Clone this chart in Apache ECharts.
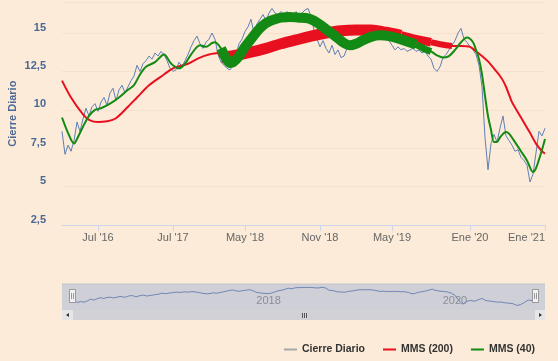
<!DOCTYPE html>
<html><head><meta charset="utf-8">
<script src="https://cdn.jsdelivr.net/npm/echarts@6/dist/echarts.min.js"></script>
<style>html,body{margin:0;padding:0;background:#fcebd8;}#c{width:558px;height:361px;}</style>
</head><body><div id="c"></div>
<script>
// Cierre Diario: one value per ordinal sample (index 0..161)
const price = [
  8.6, 7.1, 7.7, 7.3, 8.0, 9.2, 8.6, 9.4, 10.1, 9.6,
  10.2, 10.4, 9.9, 10.5, 10.8, 10.3, 11.1, 11.4, 10.6, 11.3,
  11.6, 11.1, 11.5, 11.9, 12.2, 12.9, 12.5, 13.0, 13.2, 13.5,
  13.3, 13.7, 13.5, 13.8, 13.6, 13.2, 12.7, 12.5, 12.6, 13.1,
  12.8, 13.2, 13.6, 14.1, 14.5, 14.8, 14.3, 14.0, 14.4, 14.6,
  15.0, 14.6, 13.6, 13.1, 12.9, 12.7, 12.6, 12.9, 13.6, 14.3,
  14.6, 15.1, 15.4, 15.9, 15.0, 15.6, 15.9, 16.2, 15.8, 16.3,
  16.6, 16.3, 16.2, 16.4, 16.2, 16.4, 15.9, 16.2, 16.4, 16.0,
  16.3, 16.5, 16.6, 16.1, 15.2, 14.6, 14.1, 14.5, 14.0, 13.7,
  14.2, 13.6, 13.9, 13.4, 13.5, 14.0, 14.3, 14.2, 14.6, 14.7,
  14.9, 15.0, 15.1, 14.9, 15.1, 15.0, 14.8, 14.9, 14.6, 14.5,
  14.2, 13.9, 14.1, 13.9, 14.0, 13.8, 13.9, 14.0, 13.8, 13.9,
  13.7, 13.8, 13.5, 13.3, 12.7, 12.5, 12.8, 13.4, 13.6, 13.9,
  14.2, 14.5, 15.0, 15.3, 14.6, 14.4, 14.1, 13.9, 13.6, 12.9,
  11.5, 8.2, 6.1, 7.8, 8.4, 7.9, 8.8, 9.6, 8.3, 8.0,
  7.7, 7.3, 7.4, 6.9, 6.7, 6.4, 5.3, 5.8, 7.2, 8.6,
  8.3, 8.8
];
// MMS (200): [sample index, value]
const mms200 = [
  [0,11.9],[3,10.8],[7,9.7],[9,9.35],[12,9.2],[15,9.25],[18,9.45],[22,10.2],[25,10.8],
  [29,11.6],[34,12.3],[37,12.7],[42,13.0],[46,13.4],[49,13.6],[52,13.7],
  [53,13.4],[58,13.55],[63,13.75],[68,14.0],[73,14.3],[78,14.55],[83,14.8],[88,15.0],
  [93,15.15],[98,15.2],[103,15.2],[108,15.05],[113,14.85],[118,14.6],[123,14.4],[128,14.2],[130,14.15],
  [133,14.15],[136,14.1],[138,13.8],[140,13.5],[142,13.15],[145,12.45],[146,12.2],[147,11.9],
  [148,11.5],[149,11.0],[150,10.5],[153,9.5],[156,8.5],[158,7.8],[160,7.3],[161,7.15]
];
// MMS (40): [sample index, value]
const mms40 = [
  [0,9.5],[2,8.5],[4,7.8],[5,8.1],[7,8.9],[9,9.6],[11,10.0],[13,10.1],[16,10.4],[19,10.8],
  [22,11.3],[24,11.6],[26,12.3],[28,12.8],[31,13.1],[34,13.6],[36,13.1],[37,12.9],[39,12.7],
  [41,13.0],[43,13.6],[46,14.2],[48,14.1],[50,14.35],[51,14.4],
  [53,14.0],[54,13.6],[55,13.25],[56,13.05],[57,13.1],[59,13.5],[61,14.1],[63,14.6],[65,15.1],
  [67,15.5],[69,15.75],[71,15.9],[73,16.0],[76,16.05],[79,16.0],[82,15.95],[84,15.8],[86,15.55],
  [88,15.25],[90,14.95],[92,14.65],[94,14.35],[96,14.2],[98,14.3],[100,14.5],[103,14.75],
  [106,14.85],[109,14.8],[112,14.65],[115,14.45],[118,14.25],[121,13.95],[123,13.8],
  [125,13.55],[127,13.4],[129,13.5],[131,13.9],[133,14.4],[135,14.7],[137,14.4],[138,13.9],
  [139,13.3],[140,12.3],[141,10.9],[142,9.6],[143,8.7],[144,7.9],[145,7.9],[146,8.2],[148,8.55],
  [149,8.45],[151,7.9],[153,7.3],[155,6.7],[157,5.95],[158,6.2],[160,7.4],[161,8.1]
];
// tick labels on the ordinal axis: [sample index, text]
const xTicks = [[12,"Jul '16"],[37,"Jul '17"],[61,"May '18"],[86,"Nov '18"],[110,"May '19"],[136,"Ene '20"],[161,"Ene '21"]];
// sample index -> months since Jan 2016 (navigator time scale)
const monthAnchors = [[0,0.9],[12,6],[37,18],[61,28],[86,34],[110,40],[136,48],[161,60.4]];
const navYears = [[24,'2018'],[48,'2020']];

// styling config (thick segments of the averages)
const thick200 = [[53,113,11],[113,123,8.5],[123,130,6]];
const thick40 = [[53,118,10],[118,123,7]];

const C_PRICE = '#5f7fb5', C_200 = '#e8101e', C_40 = '#138a13';
const labelMap = {}; xTicks.forEach(t => labelMap[t[0]] = t[1]);
const categories = price.map((_, i) => String(i));
function monthOf(i) {
  for (let k = 0; k < monthAnchors.length - 1; k++) {
    const a = monthAnchors[k], b = monthAnchors[k + 1];
    if (i <= b[0]) return a[1] + (i - a[0]) * (b[1] - a[1]) / (b[0] - a[0]);
  }
  return monthAnchors[monthAnchors.length - 1][1];
}
const yearMap = {}; navYears.forEach(t => yearMap[t[0]] = t[1]);

const series = [
  { name: 'Cierre Diario', type: 'line', data: price, showSymbol: false, color: C_PRICE,
    lineStyle: { width: 1, color: C_PRICE }, z: 2 },
  { name: 'MMS (200)', type: 'line', data: mms200, showSymbol: false, smooth: 0.3, color: C_200,
    lineStyle: { width: 2, color: C_200 }, z: 3 }
];
thick200.forEach(s => series.push({ name: 'MMS (200)', type: 'line', showSymbol: false, smooth: 0.3, color: C_200,
  data: mms200.filter(p => p[0] >= s[0] && p[0] <= s[1]), lineStyle: { width: s[2], color: C_200 }, z: 3 }));
series.push({ name: 'MMS (40)', type: 'line', data: mms40, showSymbol: false, smooth: 0.3, color: C_40,
  lineStyle: { width: 2, color: C_40 }, z: 4 });
thick40.forEach(s => series.push({ name: 'MMS (40)', type: 'line', showSymbol: false, smooth: 0.3, color: C_40,
  data: mms40.filter(p => p[0] >= s[0] && p[0] <= s[1]), lineStyle: { width: s[2], color: C_40 }, z: 4 }));
series.push({ name: 'nav', type: 'line', xAxisIndex: 1, yAxisIndex: 1, showSymbol: false, silent: true,
  data: price.map((v, i) => [monthOf(i), v]), lineStyle: { width: 1, color: '#6f86b4' }, color: '#6f86b4', z: 20 });

const tickShow = (idx) => labelMap[idx] !== undefined;

const option = {
  animation: false,
  backgroundColor: '#fcebd8',
  textStyle: { fontFamily: 'Liberation Sans, Arial, sans-serif' },
  grid: [
    { left: 62, right: 13, top: 2.3, bottom: 136, outerBoundsMode: 'none', containLabel: false },
    { left: 67, right: 22, top: 284, height: 26, outerBoundsMode: 'none', containLabel: false }
  ],
  xAxis: [
    { type: 'category', data: categories, boundaryGap: false, gridIndex: 0,
      axisLine: { lineStyle: { color: '#ccd6eb' } },
      axisTick: { show: true, length: 6, interval: tickShow, lineStyle: { color: '#ccd6eb' } },
      axisLabel: { interval: tickShow, formatter: (v, i) => labelMap[i] || '', color: '#666', fontSize: 11,
        margin: 7, alignMaxLabel: 'right' },
      splitLine: { show: false } },
    { type: 'value', gridIndex: 1, min: 0, max: 60.4, interval: 24,
      axisLine: { show: false }, axisTick: { show: false }, splitLine: { show: false },
      axisLabel: { inside: true, formatter: v => yearMap[v] || '', color: '#8c8c96', fontSize: 11,
        align: 'left', margin: 4, padding: [0, 0, 0, 3], showMaxLabel: false } }
  ],
  yAxis: [
    { type: 'value', gridIndex: 0, min: 2.5, max: 17, interval: 2.5,
      name: 'Cierre Diario', nameLocation: 'middle', nameRotate: 90, nameGap: 44, nameMoveOverlap: false,
      nameTextStyle: { color: '#4a6893', fontWeight: 'bold', fontSize: 11 },
      axisLine: { show: false }, axisTick: { show: false },
      axisLabel: { showMaxLabel: false, color: '#4a6893', fontWeight: 'bold', fontSize: 11, margin: 16,
        verticalAlign: 'bottom', formatter: v => String(v).replace('.', ',') },
      splitLine: { lineStyle: { color: '#f4e2cf', width: 1 } } },
    { type: 'value', gridIndex: 1, min: 2.5, max: 18.5, show: false }
  ],
  legend: {
    data: [{ name: 'Cierre Diario', itemStyle: { color: '#a8a8a8' } }, { name: 'MMS (200)' }, { name: 'MMS (40)' }],
    right: 18, top: 339, icon: 'rect', itemWidth: 13, itemHeight: 2, itemGap: 18,
    textStyle: { color: '#333', fontWeight: 'bold', fontSize: 10.5, fontFamily: 'Liberation Sans, Arial, sans-serif' },
    selectedMode: false
  },
  graphic: [
    { type: 'rect', z: 0, shape: { x: 62, y: 284, width: 483, height: 26 }, style: { fill: '#cfcfd8' } },
    { type: 'line', z: 1, shape: { x1: 62, y1: 284, x2: 545, y2: 284 }, style: { stroke: '#c4c4cc', lineWidth: 1 } },
    { type: 'rect', z: 0, shape: { x: 62, y: 310, width: 483, height: 10 }, style: { fill: '#d2d2d6' } },
    { type: 'rect', z: 1, shape: { x: 62, y: 310, width: 11, height: 10 }, style: { fill: '#e6e6e6' } },
    { type: 'rect', z: 1, shape: { x: 535, y: 310, width: 10, height: 10 }, style: { fill: '#e6e6e6' } },
    { type: 'polygon', z: 2, shape: { points: [[69, 313], [69, 317], [66, 315]] }, style: { fill: '#333' } },
    { type: 'polygon', z: 2, shape: { points: [[539, 313], [539, 317], [542, 315]] }, style: { fill: '#333' } },
    { type: 'line', z: 2, shape: { x1: 302.5, y1: 313, x2: 302.5, y2: 318 }, style: { stroke: '#555', lineWidth: 1 } },
    { type: 'line', z: 2, shape: { x1: 304.5, y1: 313, x2: 304.5, y2: 318 }, style: { stroke: '#555', lineWidth: 1 } },
    { type: 'line', z: 2, shape: { x1: 306.5, y1: 313, x2: 306.5, y2: 318 }, style: { stroke: '#555', lineWidth: 1 } },
    { type: 'rect', z: 100, shape: { x: 69.5, y: 289.5, width: 6, height: 13 }, style: { fill: '#f2f2f2', stroke: '#999', lineWidth: 1 } },
    { type: 'line', z: 101, shape: { x1: 71.5, y1: 293, x2: 71.5, y2: 299 }, style: { stroke: '#999', lineWidth: 1 } },
    { type: 'line', z: 101, shape: { x1: 73.5, y1: 293, x2: 73.5, y2: 299 }, style: { stroke: '#999', lineWidth: 1 } },
    { type: 'rect', z: 100, shape: { x: 532.5, y: 289.5, width: 6, height: 13 }, style: { fill: '#f2f2f2', stroke: '#999', lineWidth: 1 } },
    { type: 'line', z: 101, shape: { x1: 534.5, y1: 293, x2: 534.5, y2: 299 }, style: { stroke: '#999', lineWidth: 1 } },
    { type: 'line', z: 101, shape: { x1: 536.5, y1: 293, x2: 536.5, y2: 299 }, style: { stroke: '#999', lineWidth: 1 } }
  ],
  series: series
};
const chart = echarts.init(document.getElementById('c'), null, { renderer: 'canvas' });
chart.setOption(option);
</script></body></html>
